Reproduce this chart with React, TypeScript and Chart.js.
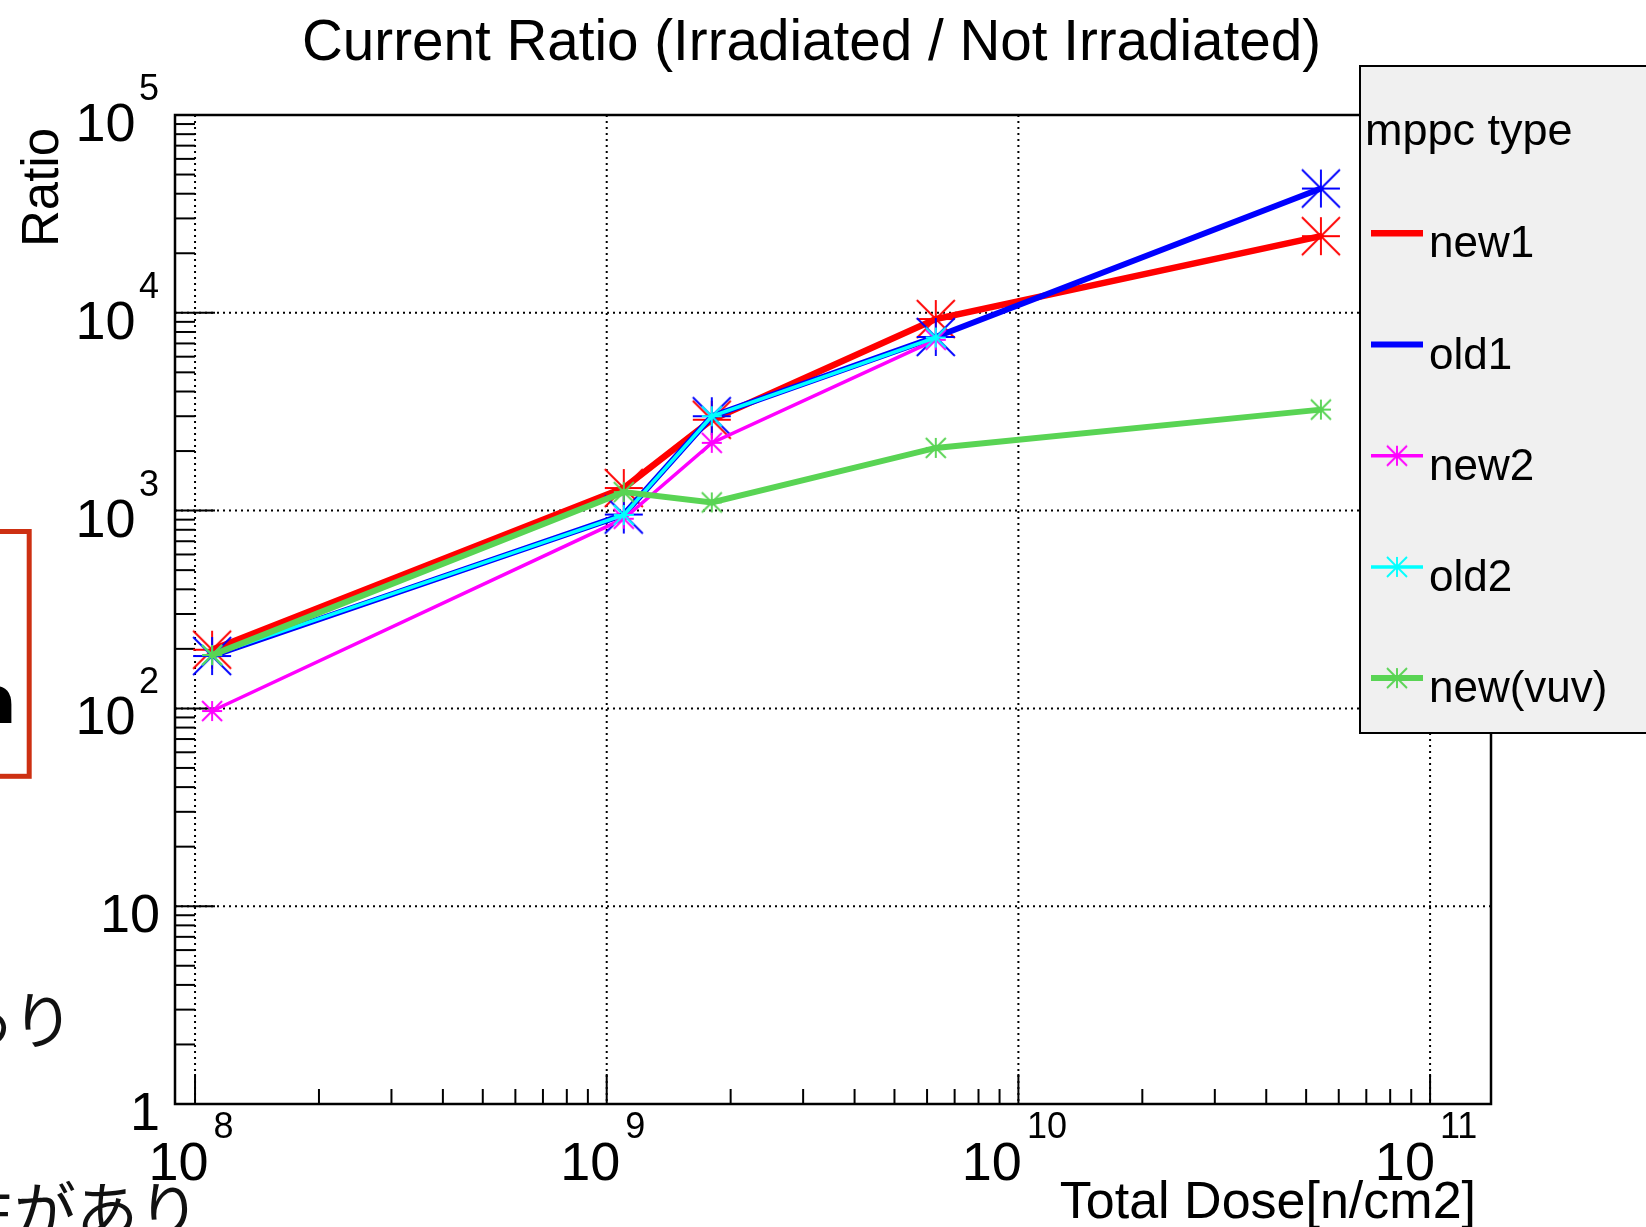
import React, { useEffect, useRef } from "react";
import { Chart, registerables } from "chart.js";

Chart.register(...registerables);

// ---------- data ----------
const doses = [1.1e8, 1.1e9, 1.8e9, 6.3e9, 5.43e10];
const seriesNames = ["new1", "old1", "new2", "old2", "new(vuv)"];
const new1 = [198, 1300, 2880, 9300, 24400];
const old1 = [184, 955, 3000, 7550, 42500];
const new2 = [97, 910, 2200, 7300];
const old2 = [186, 950, 3000, 7500];
const newVuv = [186, 1240, 1100, 2075, 3240];
const xTickExps = [8, 9, 10, 11];
const yTickExps = [0, 1, 2, 3, 4, 5];
const titleText = "Current Ratio (Irradiated / Not Irradiated)";
const xTitle = "Total Dose[n/cm2]";
const yTitle = "Ratio";
const legendTitle = "mppc type";

const FONT = '"Liberation Sans", Arial, Helvetica, sans-serif';
const CJK = '"Noto Sans CJK JP", sans-serif';

function starImage(color: string, half: number, lw: number) {
  const size = Math.ceil(2 * half + lw + 2);
  const c = document.createElement("canvas");
  c.width = size;
  c.height = size;
  const g = c.getContext("2d")!;
  const m = size / 2;
  g.strokeStyle = color;
  g.lineWidth = lw;
  g.beginPath();
  g.moveTo(m - half, m); g.lineTo(m + half, m);
  g.moveTo(m, m - half); g.lineTo(m, m + half);
  g.moveTo(m - half, m - half); g.lineTo(m + half, m + half);
  g.moveTo(m - half, m + half); g.lineTo(m + half, m - half);
  g.stroke();
  return c;
}

const styles = [
  { color: "#ff0000", width: 6.5, big: true, legendMarker: false, order: 5 },
  { color: "#0000ff", width: 6, big: true, legendMarker: false, order: 4 },
  { color: "#ff00ff", width: 3.5, big: false, legendMarker: true, order: 3 },
  { color: "#00ffff", width: 3.5, big: false, legendMarker: true, order: 2 },
  { color: "#59d454", width: 6, big: false, legendMarker: true, order: 1 },
];
const seriesValues = [new1, old1, new2, old2, newVuv];

const LBL = 54;
const EXP = 36;

function drawPow(ctx: CanvasRenderingContext2D, exp: number, x: number, align: "center" | "right", baseY: number, expY: number, gap: number, shift: number) {
  ctx.font = `${LBL}px ${FONT}`;
  const w10 = ctx.measureText("10").width;
  ctx.font = `${EXP}px ${FONT}`;
  const wE = ctx.measureText(String(exp)).width;
  const total = w10 + gap + wE;
  const left = (align === "center" ? x - total / 2 : x - total) + shift;
  ctx.textAlign = "left";
  ctx.textBaseline = "alphabetic";
  ctx.font = `${LBL}px ${FONT}`;
  ctx.fillText("10", left, baseY);
  ctx.font = `${EXP}px ${FONT}`;
  ctx.fillText(String(exp), left + w10 + gap, expY);
}

export default function App() {
  const ref = useRef<HTMLCanvasElement>(null);

  useEffect(() => {
    const markers = styles.map((s) => starImage(s.color, s.big ? 19 : 10, 1.9));
    const legendMarkers = styles.map((s) => starImage(s.color, 10, 1.9));

    const datasets = seriesNames.map((name, i) => ({
      label: name,
      data: seriesValues[i].map((y, k) => ({ x: doses[k], y })),
      borderColor: styles[i].color,
      backgroundColor: styles[i].color,
      borderWidth: styles[i].width,
      pointStyle: markers[i] as any,
      pointRadius: 10,
      pointHoverRadius: 10,
      tension: 0,
      order: styles[i].order,
      fill: false,
      clip: false as any,
    }));

    const rootPlugin = {
      id: "rootStyle",
      beforeDatasetsDraw(chart: any) {
        const { ctx, chartArea: a, scales } = chart;
        const xs = scales.x;
        const ys = scales.y;
        ctx.save();
        // dotted grid
        ctx.strokeStyle = "#000";
        ctx.lineWidth = 2;
        ctx.setLineDash([2, 4]);
        for (const e of xTickExps) {
          const px = xs.getPixelForValue(Math.pow(10, e));
          if (px > a.left + 1 && px < a.right - 1) {
            ctx.beginPath(); ctx.moveTo(px, a.top); ctx.lineTo(px, a.bottom); ctx.stroke();
          }
        }
        for (const e of yTickExps) {
          const py = ys.getPixelForValue(Math.pow(10, e));
          if (py > a.top + 1 && py < a.bottom - 1) {
            ctx.beginPath(); ctx.moveTo(a.left, py); ctx.lineTo(a.right, py); ctx.stroke();
          }
        }
        ctx.setLineDash([]);
        // ticks
        ctx.lineWidth = 2;
        for (let d = 7; d <= 11; d++) {
          for (let k = 1; k <= 9; k++) {
            const v = k * Math.pow(10, d);
            if (v < xs.min || v > xs.max) continue;
            const px = xs.getPixelForValue(v);
            if (px < a.left + 2) continue;
            const len = k === 1 ? 30 : 15;
            ctx.beginPath(); ctx.moveTo(px, a.bottom); ctx.lineTo(px, a.bottom - len); ctx.stroke();
          }
        }
        for (let d = 0; d <= 5; d++) {
          for (let k = 1; k <= 9; k++) {
            const v = k * Math.pow(10, d);
            if (v < ys.min || v > ys.max) continue;
            const py = ys.getPixelForValue(v);
            const len = k === 1 ? 40 : 20;
            ctx.beginPath(); ctx.moveTo(a.left, py); ctx.lineTo(a.left + len, py); ctx.stroke();
          }
        }
        // frame
        ctx.lineWidth = 2.5;
        ctx.strokeRect(a.left, a.top, a.right - a.left, a.bottom - a.top);
        ctx.restore();
      },
      afterDraw(chart: any) {
        const { ctx, chartArea: a, scales } = chart;
        const xs = scales.x;
        const ys = scales.y;
        ctx.save();
        ctx.fillStyle = "#000";
        // y labels
        for (const e of yTickExps) {
          const py = ys.getPixelForValue(Math.pow(10, e));
          if (e <= 1) {
            ctx.font = `${LBL}px ${FONT}`;
            ctx.textAlign = "right";
            ctx.textBaseline = "alphabetic";
            ctx.fillText(e === 0 ? "1" : "10", 160, py + 26);
          } else {
            drawPow(ctx, e, 159, "right", py + 26, py - 15, 3.5, 0);
          }
        }
        // x labels
        for (const e of xTickExps) {
          const px = xs.getPixelForValue(Math.pow(10, e));
          drawPow(ctx, e, px, "center", a.bottom + 75.6, a.bottom + 34, 5, -4);
        }
        // title
        ctx.font = `56.6px ${FONT}`;
        ctx.textAlign = "left";
        ctx.textBaseline = "alphabetic";
        ctx.fillText(titleText, 302, 60);
        // x title
        ctx.font = `52px ${FONT}`;
        ctx.textAlign = "right";
        ctx.fillText(xTitle, 1476, 1218);
        // y title
        ctx.save();
        ctx.translate(58, 128);
        ctx.rotate(-Math.PI / 2);
        ctx.font = `51px ${FONT}`;
        ctx.textAlign = "right";
        ctx.fillText(yTitle, 0, 0);
        ctx.restore();

        // legend
        const lx = 1360, ly = 66, lh = 667;
        ctx.fillStyle = "#f0f0f0";
        ctx.fillRect(lx, ly, 400, lh);
        ctx.strokeStyle = "#000";
        ctx.lineWidth = 2;
        ctx.strokeRect(lx, ly, 400, lh);
        ctx.fillStyle = "#000";
        ctx.font = `45px ${FONT}`;
        ctx.textAlign = "left";
        ctx.fillText(legendTitle, 1365, 145);
        seriesNames.forEach((name, i) => {
          const rowY = 233.3 + i * 111.2;
          const s = styles[i];
          ctx.strokeStyle = s.color;
          ctx.lineWidth = s.width;
          ctx.beginPath(); ctx.moveTo(1371, rowY); ctx.lineTo(1423, rowY); ctx.stroke();
          if (s.legendMarker) {
            const m = legendMarkers[i];
            ctx.drawImage(m, 1397 - m.width / 2, rowY - m.height / 2);
          }
          ctx.fillStyle = "#000";
          ctx.font = `44px ${FONT}`;
          ctx.fillText(name, 1429, rowY + 24);
        });

        // slide remnants on the left
        ctx.strokeStyle = "rgb(205,48,18)";
        ctx.lineWidth = 5;
        ctx.strokeRect(-20, 531.5, 49.2, 244.8);
        ctx.save();
        ctx.beginPath();
        ctx.rect(0, 600, 26, 123);
        ctx.clip();
        ctx.fillStyle = "#000";
        ctx.font = `bold 90px ${FONT}`;
        ctx.textAlign = "left";
        ctx.fillText("n", -38, 735);
        ctx.restore();
        ctx.fillStyle = "#111";
        ctx.font = `62px ${CJK}`;
        ctx.textAlign = "left";
        ctx.fillText("あり", -50, 1044);
        ctx.fillText("性があり", -48, 1234);
        ctx.restore();
      },
    };

    const chart = new Chart(ref.current!, {
      type: "line",
      data: { datasets: datasets as any },
      options: {
        responsive: false,
        animation: false,
        devicePixelRatio: 1,
        layout: { padding: { left: 175, top: 115, right: 155, bottom: 123 } },
        plugins: { legend: { display: false }, tooltip: { enabled: false }, title: { display: false } },
        events: [],
        scales: {
          x: { type: "logarithmic", min: 8.94e7, max: 1.406e11, display: false },
          y: { type: "logarithmic", min: 1, max: 1e5, display: false },
        },
      },
      plugins: [rootPlugin],
    });
    return () => chart.destroy();
  }, []);

  return (
    <div style={{ position: "absolute", left: 0, top: 0, width: 1646, height: 1227, background: "#fff", overflow: "hidden" }}>
      <canvas ref={ref} width={1646} height={1227} style={{ display: "block" }} />
    </div>
  );
}
